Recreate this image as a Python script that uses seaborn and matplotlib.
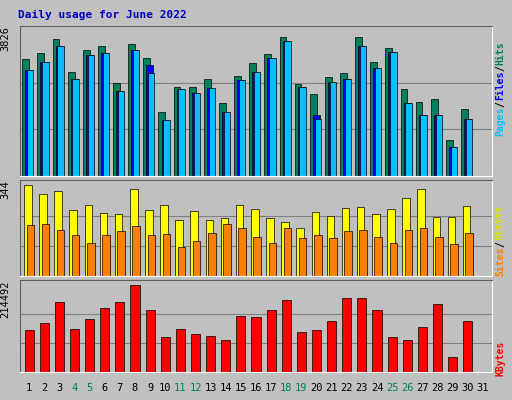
import matplotlib
matplotlib.use("Agg")
import matplotlib.pyplot as plt
import seaborn as sns
import numpy as np

sns.set_style("white")
plt.rcParams['font.family'] = ['DejaVu Sans Mono']

days = list(range(1, 32))
hits = [3200,3360,3750,2840,3430,3560,2530,3590,3220,1750,2420,2420,2660,1980,2740,3090,3330,3800,2500,2240,2690,2820,3780,3110,3480,2370,2030,2110,970,1820,0]
files = [2900,3100,3540,2640,3300,3350,2320,3430,3020,1520,2370,2270,2400,1740,2610,2850,3220,3690,2420,1660,2560,2640,3560,2950,3380,2000,1660,1660,790,1550,0]
pages = [2900,3100,3540,2640,3300,3350,2320,3430,2800,1520,2370,2270,2400,1740,2610,2850,3220,3690,2420,1560,2560,2640,3560,2950,3380,2000,1660,1660,790,1550,0]
visits = [344,310,321,249,268,238,234,329,249,268,212,246,212,219,268,253,219,204,181,242,227,257,261,234,253,295,329,223,223,264,0]
sites = [193,197,174,155,125,155,170,189,155,159,110,132,163,197,181,148,125,181,144,155,144,170,174,148,125,174,181,148,121,163,0]
kbytes = [105000,120000,174000,107000,132000,159000,172000,214492,152000,87000,107000,95000,90000,80000,139000,135000,152000,177000,100000,105000,125000,182000,184000,152000,87000,80000,110000,167000,37000,125000,0]

W, H = 512, 400
fig = plt.figure(figsize=(W/100, H/100), dpi=100)
bg = '#C0C0C0'
fig.patch.set_facecolor(bg)

def ax_px(x0, y0, x1, y1):
    return fig.add_axes([x0/W, 1-y1/H, (x1-x0)/W, (y1-y0)/H])

x = np.array(days)
a1 = ax_px(20, 26, 492, 176)
a1.bar(x-0.22, hits, width=0.45, color='#00805C', edgecolor='black', lw=0.5)
a1.bar(x-0.02, files, width=0.45, color='#0000FF', edgecolor='black', lw=0.5)
a1.bar(x+0.08, pages, width=0.42, color='#00C0FF', edgecolor='black', lw=0.5)
a1.set_ylim(0, 3826*1.07)
a2 = ax_px(20, 180, 492, 276)
a2.bar(x-0.08, visits, width=0.5, color='#FFFF00', edgecolor='black', lw=0.5)
a2.bar(x+0.08, sites, width=0.5, color='#FF8000', edgecolor='black', lw=0.5)
a2.set_ylim(0, 344*1.06)
a3 = ax_px(20, 280, 492, 372)
a3.bar(x, kbytes, width=0.6, color='#FF0000', edgecolor='black', lw=0.5)
a3.set_ylim(0, 214492*1.06)

for a, mx in [(a1, 3826), (a2, 344), (a3, 214492)]:
    a.set_facecolor(bg)
    a.set_xlim(0.4, 31.6)
    for g in (mx/3, 2*mx/3):
        a.axhline(g, color='#808080', lw=0.8, zorder=0)
    a.set_axisbelow(True)
    a.set_xticks([]); a.set_yticks([])
    for s in ['top', 'left']:
        a.spines[s].set_color('#606060')
    for s in ['bottom', 'right']:
        a.spines[s].set_color('white')
    a.text(-0.02, 1.0, str(mx), rotation=90, transform=a.transAxes,
           ha='right', va='top', fontsize=7.5, color='black')

weekend = {4, 5, 11, 12, 18, 19, 25, 26}
for d in days:
    xf = (a3.transData.transform((d, 0))[0]) / W
    fig.text(xf, 1-388/H, str(d), ha='center', va='center', fontsize=7.5,
             color='#00805C' if d in weekend else 'black')

fig.text(18/W, 1-15/H, 'Daily usage for June 2022', fontsize=8, fontweight='bold',
         color='#0000C0', va='center')

def vlabel(y_bottom, parts):
    y = y_bottom
    for txt, col in parts:
        fig.text(500/W, 1-y/H, txt, rotation=90, ha='center', va='bottom',
                 fontsize=7, fontweight='bold', color=col)
        y -= len(txt) * 5.6 + 1
vlabel(136, [('Pages', '#00C0FF'), ('/', 'black'), ('Files', '#0000FF'), ('/', 'black'), ('Hits', '#00805C')])
vlabel(276, [('Sites', '#FF8000'), ('/', 'black'), ('Visits', '#E0E000')])
vlabel(376, [('KBytes', '#FF0000')])

fig.savefig('out.png', dpi=100, facecolor=bg)
